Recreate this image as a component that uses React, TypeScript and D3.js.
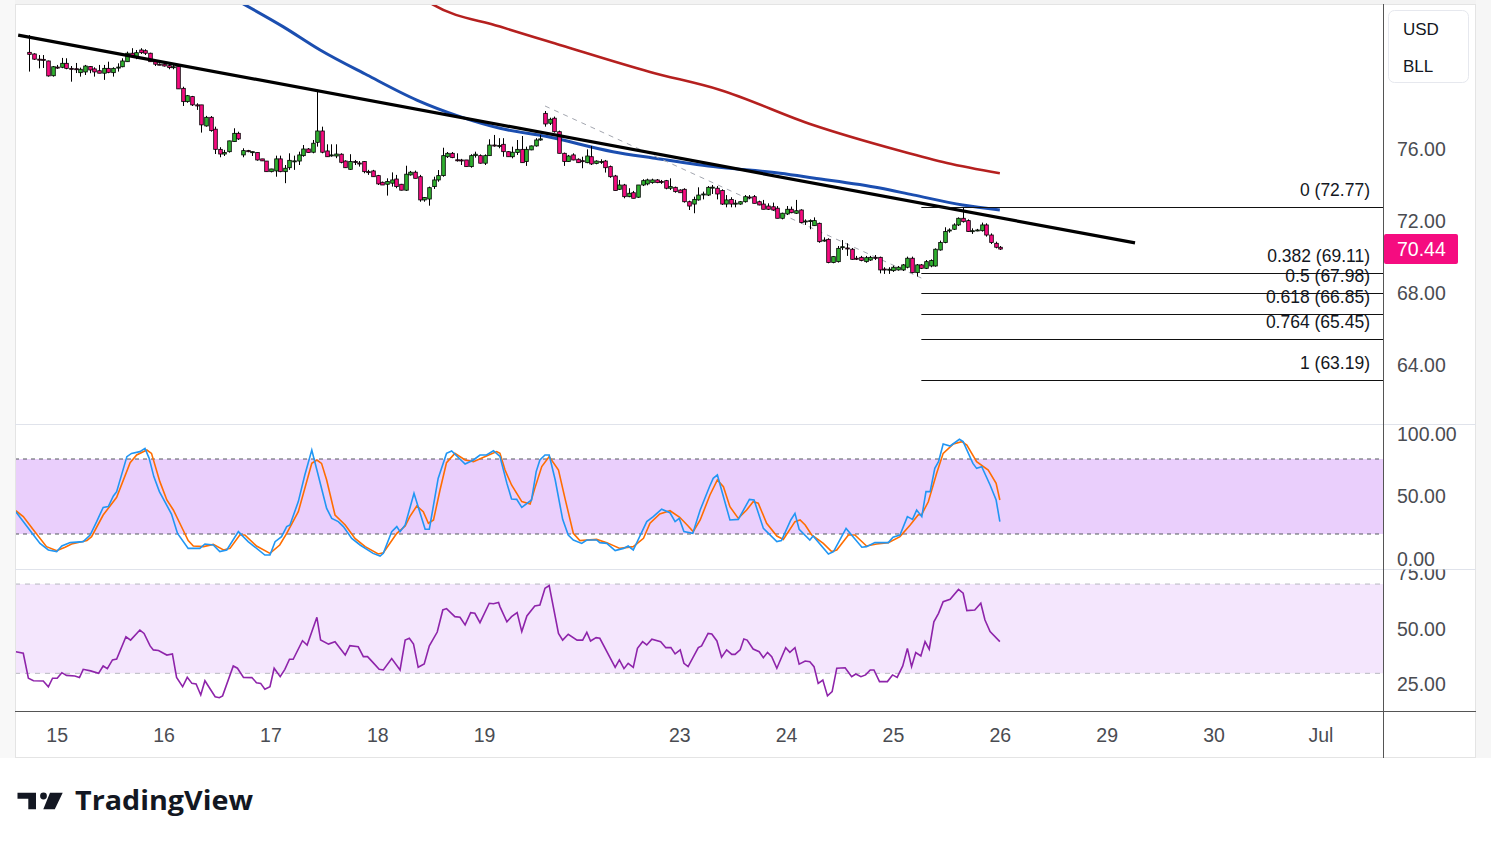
import React, { useEffect, useRef } from 'react';
import * as d3 from 'd3';

// hourly candles, [open, high, low, close]
const candles = [
  [81.37, 82.33, 80.30, 81.26], [81.28, 81.32, 80.95, 80.99], [80.99, 81.22, 80.48, 80.98], [80.98, 81.22, 80.50, 80.97],
  [80.89, 80.91, 80.02, 80.06], [80.07, 80.61, 80.02, 80.57], [80.55, 80.67, 80.45, 80.54], [80.54, 81.06, 80.49, 80.76],
  [80.76, 81.04, 80.43, 80.48], [80.48, 80.61, 79.74, 80.47], [80.46, 80.78, 80.22, 80.45], [80.24, 80.52, 80.02, 80.43],
  [80.28, 80.67, 80.11, 80.61], [80.58, 80.61, 80.21, 80.39], [80.45, 80.54, 80.02, 80.28], [80.35, 80.67, 80.21, 80.21],
  [80.21, 80.67, 79.84, 80.48], [80.48, 80.85, 80.21, 80.26], [80.24, 80.54, 80.02, 80.48], [80.54, 80.76, 80.30, 80.55],
  [80.57, 81.04, 80.54, 80.89], [80.85, 81.41, 80.85, 81.32], [81.32, 81.60, 81.17, 81.17], [81.13, 81.50, 80.99, 81.35],
  [81.50, 81.60, 81.28, 81.35], [81.46, 81.54, 81.22, 81.32], [81.32, 81.35, 80.85, 80.85], [80.89, 80.95, 80.61, 80.71],
  [80.71, 80.76, 80.65, 80.70], [80.71, 80.80, 80.58, 80.61], [80.63, 80.76, 80.43, 80.52], [80.52, 80.76, 80.43, 80.57],
  [80.58, 80.61, 79.34, 79.34], [79.37, 79.46, 78.39, 78.63], [78.63, 79.00, 78.57, 78.96], [78.91, 78.95, 78.39, 78.45],
  [78.45, 78.54, 78.17, 78.39], [78.45, 78.45, 76.91, 77.34], [77.28, 77.84, 77.24, 77.76], [77.76, 77.83, 76.96, 77.02],
  [77.10, 77.24, 75.72, 75.98], [75.98, 76.10, 75.54, 75.72], [75.72, 75.95, 75.61, 75.80], [75.85, 76.46, 75.80, 76.45],
  [76.41, 77.15, 76.41, 76.87], [76.87, 76.96, 76.50, 76.56], [75.67, 76.04, 75.54, 75.91], [75.91, 75.95, 75.82, 75.85],
  [75.85, 75.86, 75.61, 75.85], [75.80, 75.80, 75.35, 75.39], [75.45, 75.45, 75.33, 75.34], [75.33, 75.33, 74.74, 74.74],
  [74.74, 74.90, 74.70, 74.89], [74.78, 75.63, 74.46, 75.45], [75.45, 75.63, 74.71, 74.74], [74.74, 75.11, 74.10, 74.93],
  [74.96, 75.76, 74.84, 75.37], [75.33, 75.63, 74.84, 75.34], [75.33, 75.85, 75.11, 75.67], [75.63, 76.22, 75.57, 76.00],
  [76.00, 76.05, 75.79, 75.80], [75.82, 76.50, 75.76, 76.32], [76.37, 79.28, 76.13, 77.00], [77.00, 77.24, 75.76, 75.82],
  [75.89, 76.26, 75.57, 75.57], [75.62, 76.26, 75.57, 75.67], [75.61, 76.26, 75.49, 75.72], [75.71, 75.76, 75.20, 75.26],
  [75.33, 75.37, 74.96, 74.96], [74.87, 75.71, 74.84, 75.30], [75.30, 75.39, 75.11, 75.29], [75.22, 75.33, 75.02, 75.21],
  [75.30, 75.33, 74.65, 74.74], [74.74, 74.84, 74.56, 74.73], [74.78, 74.84, 74.46, 74.46], [74.52, 74.56, 74.00, 74.06],
  [74.15, 74.19, 74.00, 74.00], [74.04, 74.37, 73.41, 74.19], [74.10, 74.70, 73.91, 74.28], [74.33, 74.56, 73.82, 73.91],
  [74.04, 74.06, 73.70, 73.71], [73.71, 75.07, 73.67, 74.60], [74.56, 74.78, 74.52, 74.71], [74.71, 74.80, 74.37, 74.37],
  [74.46, 74.56, 73.07, 73.17], [73.17, 73.33, 73.07, 73.30], [73.22, 73.91, 72.85, 73.85], [73.91, 74.46, 73.78, 74.28],
  [74.28, 74.83, 74.18, 74.52], [74.52, 76.07, 74.46, 75.63], [75.57, 75.83, 75.50, 75.76], [75.76, 75.83, 75.49, 75.52],
  [75.40, 75.76, 75.30, 75.39], [75.39, 75.45, 75.11, 75.38], [75.39, 75.39, 75.02, 75.02], [75.02, 75.71, 74.96, 75.63],
  [75.63, 75.85, 75.52, 75.71], [75.63, 75.70, 75.19, 75.21], [75.21, 75.70, 75.11, 75.63], [75.63, 76.54, 75.63, 76.22],
  [76.22, 76.78, 76.13, 76.19], [76.18, 76.60, 76.04, 76.20], [76.26, 76.60, 75.57, 75.85], [75.85, 75.87, 75.57, 75.57],
  [75.57, 76.13, 75.48, 75.82], [75.80, 76.50, 75.67, 75.98], [75.98, 76.72, 75.24, 75.24], [75.30, 76.13, 75.06, 75.98],
  [75.95, 76.19, 75.93, 76.17], [76.17, 76.60, 76.13, 76.50], [76.50, 76.78, 76.46, 76.56], [77.98, 78.11, 77.24, 77.39],
  [77.43, 77.74, 77.33, 77.65], [77.71, 77.80, 76.91, 76.96], [76.96, 77.02, 75.76, 75.76], [75.76, 75.80, 75.06, 75.30],
  [75.30, 75.67, 75.28, 75.61], [75.67, 75.76, 75.37, 75.39], [75.43, 75.48, 75.22, 75.24], [75.35, 75.57, 74.93, 75.34],
  [75.24, 75.98, 75.21, 75.61], [75.57, 76.17, 75.11, 75.17], [75.20, 75.37, 75.15, 75.33], [75.30, 75.43, 75.17, 75.31],
  [75.33, 75.39, 74.69, 74.96], [75.02, 75.08, 74.40, 74.46], [74.50, 74.56, 73.69, 73.69], [73.76, 74.28, 73.72, 74.00],
  [74.00, 74.06, 73.26, 73.35], [73.35, 73.82, 73.32, 73.54], [73.57, 73.67, 73.26, 73.26], [73.32, 74.00, 73.28, 74.00],
  [74.00, 74.32, 73.94, 74.24], [74.06, 74.35, 73.98, 74.28], [74.13, 74.35, 74.07, 74.28], [74.28, 74.33, 74.10, 74.13],
  [74.20, 74.28, 74.06, 74.19], [74.24, 74.28, 73.76, 73.82], [73.82, 74.37, 73.72, 73.91], [73.87, 73.91, 73.57, 73.63],
  [73.72, 73.76, 73.57, 73.57], [73.76, 73.82, 73.02, 73.07], [73.07, 73.13, 72.61, 72.83], [72.94, 73.35, 72.43, 73.20],
  [73.17, 73.87, 73.13, 73.44], [73.48, 73.63, 73.20, 73.50], [73.44, 73.94, 73.39, 73.87], [73.87, 74.00, 73.50, 73.88],
  [73.82, 73.94, 73.20, 73.50], [73.69, 73.76, 72.89, 72.94], [72.94, 73.44, 72.76, 73.17], [73.20, 73.32, 72.76, 72.94],
  [72.98, 73.17, 72.76, 72.99], [72.94, 73.10, 72.90, 73.07], [73.07, 73.44, 73.02, 73.35], [73.33, 73.44, 73.22, 73.32],
  [73.35, 73.44, 72.98, 72.98], [73.07, 73.13, 72.87, 72.89], [72.94, 73.17, 72.65, 72.65], [72.83, 72.98, 72.61, 72.65],
  [72.79, 73.02, 72.57, 72.61], [72.71, 72.83, 72.15, 72.15], [72.15, 72.46, 72.09, 72.43], [72.39, 72.83, 72.33, 72.65],
  [72.65, 72.80, 72.43, 72.46], [72.43, 73.17, 72.39, 72.57], [72.61, 72.65, 71.87, 71.91], [71.98, 72.09, 71.78, 72.00],
  [72.00, 72.09, 71.54, 72.02], [71.74, 72.20, 71.72, 72.02], [71.87, 71.91, 70.79, 70.85], [70.92, 71.09, 70.85, 70.94],
  [70.98, 71.04, 69.65, 69.69], [69.69, 70.04, 69.65, 70.02], [69.74, 70.61, 69.69, 70.48], [70.55, 70.94, 70.39, 70.57],
  [70.50, 70.76, 70.06, 70.48], [70.43, 70.50, 69.85, 69.87], [69.93, 70.06, 69.83, 69.92], [69.98, 70.06, 69.76, 69.80],
  [69.74, 70.06, 69.68, 69.96], [69.83, 70.06, 69.78, 69.98], [69.98, 70.11, 69.83, 69.97], [69.98, 70.02, 69.09, 69.28],
  [69.33, 69.43, 69.06, 69.31], [69.31, 69.43, 69.06, 69.32], [69.24, 69.52, 69.17, 69.43], [69.28, 69.50, 69.24, 69.43],
  [69.28, 69.61, 69.22, 69.56], [69.43, 70.02, 69.37, 69.93], [69.93, 70.02, 69.09, 69.13], [69.13, 69.61, 68.91, 69.56],
  [69.56, 69.61, 69.33, 69.37], [69.37, 69.83, 69.33, 69.74], [69.50, 69.87, 69.43, 69.80], [69.50, 70.48, 69.46, 70.43],
  [70.39, 70.91, 70.35, 70.80], [70.80, 71.65, 70.76, 71.41], [71.50, 71.59, 71.35, 71.50], [71.54, 71.87, 71.50, 71.78],
  [71.78, 72.20, 71.72, 72.15], [72.15, 72.77, 71.91, 71.96], [72.02, 72.09, 71.39, 71.41], [71.46, 71.59, 71.28, 71.46],
  [71.50, 71.56, 71.43, 71.50], [71.46, 71.91, 71.41, 71.78], [71.78, 71.87, 71.13, 71.22], [71.22, 71.31, 70.72, 70.80],
  [70.76, 70.85, 70.48, 70.54], [70.54, 70.61, 70.39, 70.44],
];

// moving averages, [bar index, price]
const maBlue = [
  [44.5, 84.28], [54.6, 82.8], [62.6, 81.5], [72.7, 80.11], [83.4, 78.72], [92.7, 77.8], [101.3, 77.15],
  [111.4, 76.69], [125.6, 75.85], [134.2, 75.5], [147.2, 75.02], [161.6, 74.65], [168.7, 74.39],
  [183.1, 73.83], [190.2, 73.45], [200.9, 72.89], [208.9, 72.61],
];
const maRed = [
  [85.3, 84.28], [86.9, 84.02], [101.3, 82.8], [114.2, 81.78], [133.6, 80.28], [148.7, 79.28],
  [168.7, 77.33], [186.8, 75.94], [197.5, 75.22], [208.9, 74.65],
];

// drawings
const trendLine = [[-2.4, 82.33], [238, 70.78]];
const fibTrend = [[111, 78.39], [192, 68.83]];
const fibStart = 192;
const fibLevels = [
  ['0', 72.77], ['0.382', 69.11], ['0.5', 67.98], ['0.618', 66.85], ['0.764', 65.45], ['1', 63.19],
];
const lastPrice = 70.44;

// stochastic %K / %D, [bar index, value]
const stochK = [
  [-2.9, 37.8], [0.9, 19.2], [2.3, 12.5], [4.1, 7.2], [5.9, 5.9], [7, 10.4], [8.8, 13.1], [11.6, 13.9], [13.1, 19.2],
  [14.5, 29.9], [15.9, 41.3], [17, 41.9], [18.1, 50.4], [18.8, 53.9], [21, 81.9], [22, 84.5], [23.8, 85.9], [24.9, 88.5],
  [25.8, 80.5], [26.8, 65.9], [28, 53.9], [30.6, 36], [31.9, 20.5], [34.2, 8.5], [36.7, 8.5], [37.8, 12], [39.6, 11.2],
  [41, 5.9], [42.5, 7.2], [45, 21.9], [47.1, 13.9], [50.7, 3.2], [51.8, 3.2], [52.9, 13.9], [54.3, 17.9], [55.4, 25.9],
  [56.1, 27.2], [57.9, 45.9], [59.3, 67.2], [60.8, 87.2], [61.9, 71.2], [64, 40.5], [65.1, 32.5], [66.5, 29.9],
  [67.6, 25.9], [69.4, 16.5], [71.2, 11.2], [74, 4.5], [75.5, 2.4], [76.2, 4.5], [78, 21.9], [79.1, 25.9], [79.8, 21.9],
  [80.9, 27.2], [82.8, 52.5], [85.2, 23.8], [86.1, 23.8], [88, 64.5], [89.8, 84.5], [90.9, 86.4], [93.8, 76],
  [95.6, 79.2], [97, 83.2], [98.4, 83.2], [99.9, 86.6], [101.3, 82], [102.8, 60.5], [103.8, 48], [104.9, 47.7],
  [106, 41.3], [108.1, 47.2], [109.1, 69.9], [109.9, 79.2], [111, 83.2], [111.9, 83.2], [113.2, 63.2], [114.8, 31.7],
  [116, 19.2], [117.1, 15.2], [118.9, 12.5], [120, 15.2], [122.1, 15.2], [122.8, 13.1], [124.3, 12.5], [126.1, 6.7],
  [127.9, 8.5], [128.9, 10.4], [130, 7.2], [132.9, 29.9], [134.3, 33.9], [136.1, 39.8], [137.9, 37], [139, 29.9],
  [139.9, 32.5], [140.9, 21.9], [142.8, 20.5], [144.4, 39.2], [146.4, 57.8], [147.2, 64.5], [148.1, 67.2],
  [150.8, 31.2], [152.6, 31.7], [155, 47.7], [156, 47.2], [158, 24.5], [160.9, 13.9], [161.9, 14.7], [163.9, 31.2],
  [164.8, 36.5], [165.7, 23.8], [168, 15.2], [168.7, 18.4], [172, 4], [173.1, 5.9], [175.8, 24.5], [179.2, 9.4],
  [180.2, 9.9], [182, 13.1], [184.9, 13.1], [185.9, 17.4], [187.4, 19.2], [189, 33.9], [190.1, 31.7], [191, 39.2],
  [192.1, 33.9], [193, 53.9], [193.9, 53.9], [194.9, 72.5], [195.7, 77.9], [196.7, 92], [198.2, 90.4], [200.2, 95.8],
  [201, 93.9], [203.1, 76.5], [203.9, 72.5], [205, 73.9], [206.8, 59.2], [208.1, 47.2], [208.9, 29.9],
];
const stochD = [
  [-2.9, 38.6], [-1.3, 33.9], [0.9, 23.2], [3.7, 9.9], [5.9, 6.7], [7.7, 9.4], [9.1, 12], [12.4, 14.7], [13.4, 17.9],
  [15.9, 35.2], [18.8, 49.4], [21.7, 77.1], [23.1, 83.2], [25.3, 87.2], [26.3, 84.5], [28.1, 61.9], [29.6, 47.2],
  [31, 39.2], [33.1, 23.2], [34.2, 14.7], [35.3, 10.4], [37.5, 9.9], [39.6, 11.7], [41.8, 7.2], [43.2, 8.5],
  [45.3, 19.2], [46.4, 19.2], [48.9, 10.4], [51.8, 4.5], [53.9, 11.2], [55.4, 20.5], [57.9, 37.8], [60.8, 76.5],
  [61.9, 79.2], [62.9, 76.5], [64, 63.2], [65.8, 35.2], [68, 27.2], [70.1, 16.5], [72.3, 9.9], [75.1, 4], [76.2, 5],
  [79.1, 20.5], [80.9, 26.4], [81.9, 33.9], [83.4, 42.4], [84.8, 37.8], [85.9, 28.6], [87, 31.2], [88.4, 55.2],
  [89.8, 77.1], [91.6, 84.5], [93.8, 79.2], [95.6, 77.9], [98.4, 82.4], [100.6, 85.9], [101.3, 84.5], [102.4, 71.2],
  [103.8, 59.2], [106, 45.9], [107.8, 44], [108.8, 56.5], [110.3, 73.9], [111.9, 81.9], [113.9, 71.2], [115.3, 48.5],
  [117.1, 20.5], [118.5, 14.7], [122.1, 15.7], [124.3, 13.1], [127.1, 8.5], [130, 9.9], [132.2, 16.5], [133.6, 28.6],
  [135.7, 36], [137.9, 38.6], [140, 33.4], [141.8, 26.4], [142.9, 21.9], [144.4, 31.2], [146.5, 51.2], [148.1, 63.2],
  [149.4, 57.8], [150.8, 41.8], [152.6, 32.5], [154.4, 39.2], [155.8, 45.8], [156.9, 44.6], [158.7, 28.6],
  [160.9, 18.4], [162.3, 15.7], [164.8, 29.9], [165.9, 31.2], [167, 27.2], [168.4, 19.2], [170.9, 12.5], [172.7, 5.9],
  [173.8, 7.2], [176.3, 19.2], [177.7, 19.2], [180.2, 10.4], [182.4, 12], [184.9, 13.1], [187.4, 17.9], [189.6, 27.2],
  [191.3, 35.2], [192.1, 35.8], [193.5, 45.8], [195.3, 68.6], [196.7, 84.5], [198.9, 92], [200.7, 93.9], [201.8, 91.2],
  [203.9, 77.9], [206.4, 71.2], [208.1, 60.6], [208.9, 47.2],
];

// RSI, [bar index, value]
const rsi = [
  [-2.9, 39.7], [-1.3, 39], [-0.2, 27.8], [0.9, 26.7], [3, 26.6], [4.1, 24], [5, 27.8], [6, 27.8], [7, 30.3], [8, 29.1],
  [9.8, 28.8], [10.8, 28.1], [11.6, 31.8], [13.2, 31.1], [14.9, 30], [15.9, 33.3], [16.8, 32.1], [17.9, 36],
  [18.8, 36.4], [20.8, 46.4], [21.8, 44.9], [23.8, 49.4], [24.7, 47.9], [26, 42.3], [26.7, 40.5], [27.8, 40.2],
  [29.6, 38.2], [30.8, 38.7], [31.7, 28.2], [33, 24], [34, 28.2], [35, 25.5], [35.9, 25.2], [36.9, 20.3], [37.8, 26.7],
  [40, 19.5], [40.9, 19.1], [41.6, 19.9], [43.9, 33.3], [44.8, 32.3], [46.1, 28.2], [47.9, 28.1], [48.9, 25.8],
  [49.8, 25.5], [50.7, 22.9], [51.8, 24], [52.7, 32.3], [54, 28.5], [55, 31.8], [56, 36.3], [56.8, 36.3], [58.8, 44.6],
  [59.8, 42.7], [61.9, 55.1], [62.7, 44.9], [64.4, 43.1], [65.8, 44.2], [68, 38.2], [69, 42.4], [70.8, 41.9],
  [71.9, 37.5], [72.8, 37.5], [74, 34.8], [75.3, 31.8], [76.2, 31.5], [78, 36.6], [79.8, 31.5], [80.9, 44.9],
  [81.8, 45.7], [82.7, 43.1], [83.7, 32.7], [85, 34.2], [86.1, 42.3], [87.8, 48.5], [89, 58.4], [89.8, 59],
  [91.6, 55.4], [92.7, 55.1], [93.8, 51.7], [95, 57.2], [95.9, 56.9], [97, 52.7], [99, 61.4], [99.9, 61.2],
  [101, 61.8], [101.3, 59.9], [102.8, 53.1], [103.8, 55.4], [105, 57.2], [106, 48.7], [107.1, 55.7], [108.8, 60.2],
  [109.9, 60.6], [111, 68.1], [111.9, 69.3], [113.9, 47.9], [114.8, 44.9], [116, 47.5], [117.9, 44.9], [119.1, 44.9],
  [120, 48.4], [120.8, 44.5], [122, 46], [122.8, 45.7], [126.1, 32.7], [127, 36], [128, 32.1], [128.9, 34.5],
  [130, 32.7], [130.9, 41.2], [132, 44.2], [132.9, 42.7], [134, 45.3], [135.9, 44.2], [137, 41.5], [138.1, 41.5],
  [139, 38.7], [140.1, 40.5], [140.9, 34.5], [141.8, 33], [144, 41.5], [144.7, 42.3], [146.1, 47.9], [146.9, 47.6],
  [148, 44.5], [149, 37.2], [150.1, 40.5], [151.2, 38.5], [151.9, 38.5], [153, 40.5], [153.8, 45.4], [154.5, 44.9],
  [155.8, 40.9], [157.1, 39.7], [158, 37], [158.9, 39.4], [159.8, 37.5], [160.9, 32.3], [162.8, 41.5], [163.7, 39.4],
  [164.8, 41.5], [165.7, 34.1], [167, 35.5], [168, 35.2], [168.9, 33], [169.8, 25.5], [170.8, 27], [171.8, 19.9],
  [172.8, 21.8], [173.8, 32.3], [175.6, 32.5], [177, 28.5], [177.9, 29.7], [179, 28.5], [180, 29.3], [181, 31.5],
  [181.8, 31.5], [183, 26.3], [184.7, 26.3], [185.8, 29.3], [186.8, 28.2], [188, 33.3], [189, 41.2], [189.9, 33],
  [190.8, 39.3], [191.9, 37.8], [192.8, 44.2], [193.7, 40.8], [194.7, 53.1], [195.7, 56.9], [196.7, 62.1],
  [198.2, 63.2], [200, 67.6], [201, 65.9], [201.8, 58.1], [203.5, 58.4], [204.8, 61.4], [205.7, 53.9], [206.8, 48.7],
  [208.9, 44.2],
];

const priceTicks = [64, 68, 72, 76];
const stochTicks = [0, 50, 100];
const rsiTicks = [25, 50, 75];
const dayTicks = [
  ['15', 6], ['16', 29], ['17', 52], ['18', 75], ['19', 98], ['23', 140],
  ['24', 163], ['25', 186], ['26', 209], ['29', 232], ['30', 255], ['Jul', 278],
];

const FONT = 'Liberation Sans, Arial, sans-serif';
const UP = '#2fb02f';
const DOWN = '#f50c80';

const App = () => {
  const svgRef = useRef(null);

  useEffect(() => {
    const W = 1491, H = 849;
    const left = 15, plotRight = 1383, frameRight = 1476;
    const top = 4, mainBottom = 424, stochBottom = 569, rsiBottom = 711, frameBottom = 758;

    const svg = d3.select(svgRef.current);
    svg.selectAll('*').remove();
    svg.attr('width', W).attr('height', H).attr('viewBox', [0, 0, W, H]);

    // scales
    const x = d3.scaleLinear().domain([-3.08, 291.37]).range([left, plotRight]);
    const y = d3.scaleLinear().domain([60.72, 84]).range([mainBottom, 5]);
    const yStoch = d3.scaleLinear().domain([0, 100]).range([559, 434]);
    const yRsi = d3.scaleLinear().domain([25, 75]).range([684.5, 572.9]);

    svg.append('rect').attr('width', W).attr('height', H).attr('fill', '#fff');
    svg.append('rect').attr('x', 0).attr('y', 0).attr('width', W).attr('height', top).attr('fill', '#f3f3f3');
    svg.append('rect').attr('x', 0).attr('y', 0).attr('width', left).attr('height', frameBottom).attr('fill', '#f8f8f8');
    svg.append('rect').attr('x', frameRight).attr('y', 0).attr('width', W - frameRight).attr('height', frameBottom).attr('fill', '#f6f6f6');

    // clip paths per pane
    const defs = svg.append('defs');
    const clip = (id, y0, y1) => defs.append('clipPath').attr('id', id)
      .append('rect').attr('x', left).attr('y', y0).attr('width', plotRight - left).attr('height', y1 - y0);
    clip('clip-main', top, mainBottom);
    clip('clip-stoch', mainBottom, stochBottom);
    clip('clip-rsi', stochBottom, rsiBottom);
    defs.append('clipPath').attr('id', 'clip-rsi-axis')
      .append('rect').attr('x', plotRight).attr('y', stochBottom + 0.5).attr('width', frameRight - plotRight).attr('height', rsiBottom - stochBottom);

    // ---- main pane
    const main = svg.append('g').attr('clip-path', 'url(#clip-main)');

    const lineIP = (scaleY) => d3.line().x(d => x(d[0])).y(d => scaleY(d[1]));

    main.append('path').datum(maRed)
      .attr('fill', 'none').attr('stroke', '#b5201f').attr('stroke-width', 2.6)
      .attr('d', lineIP(y).curve(d3.curveMonotoneX));
    main.append('path').datum(maBlue)
      .attr('fill', 'none').attr('stroke', '#1b4eb0').attr('stroke-width', 3)
      .attr('d', lineIP(y).curve(d3.curveMonotoneX));

    // fib retracement
    main.append('path').datum(fibTrend)
      .attr('fill', 'none').attr('stroke', '#a3a6af').attr('stroke-width', 1).attr('stroke-dasharray', '5,5')
      .attr('d', lineIP(y));
    const fib = svg.append('g');
    fibLevels.forEach(([lvl, p]) => {
      const yy = Math.round(y(p)) + 0.5;
      fib.append('line').attr('x1', x(fibStart)).attr('x2', plotRight).attr('y1', yy).attr('y2', yy)
        .attr('stroke', '#111').attr('stroke-width', 1);
      fib.append('text').attr('x', 1370).attr('y', yy - 18).attr('dy', '0.35em')
        .attr('text-anchor', 'end').attr('font-family', FONT).attr('font-size', 17.5).attr('fill', '#131722')
        .text(`${lvl} (${p.toFixed(2)})`);
    });

    // candles
    const bw = 3.6;
    const cg = main.append('g');
    candles.forEach((c, i) => {
      const [o, h, l, cl] = c;
      const cx = Math.round(x(i)) + 0.5;
      const hi = Math.max(h, o, cl), lo = Math.min(l, o, cl);
      cg.append('line').attr('x1', cx).attr('x2', cx).attr('y1', y(hi)).attr('y2', y(lo))
        .attr('stroke', '#000').attr('stroke-width', 1);
      const yTop = y(Math.max(o, cl)), yBot = y(Math.min(o, cl));
      cg.append('rect').attr('x', cx - bw / 2).attr('y', yTop).attr('width', bw)
        .attr('height', Math.max(1, yBot - yTop))
        .attr('fill', cl >= o ? UP : DOWN).attr('stroke', '#000').attr('stroke-width', 0.8);
    });

    // trend line
    main.append('path').datum(trendLine)
      .attr('fill', 'none').attr('stroke', '#000').attr('stroke-width', 3.2)
      .attr('d', lineIP(y));

    // ---- stochastic pane
    const st = svg.append('g').attr('clip-path', 'url(#clip-stoch)');
    st.append('rect').attr('x', left).attr('width', plotRight - left)
      .attr('y', yStoch(80)).attr('height', yStoch(20) - yStoch(80)).attr('fill', '#eacffc');
    [80, 20].forEach(v => {
      st.append('line').attr('x1', left).attr('x2', plotRight).attr('y1', yStoch(v)).attr('y2', yStoch(v))
        .attr('stroke', '#55585f').attr('stroke-width', 1).attr('stroke-dasharray', '4,4');
    });
    st.append('path').datum(stochD).attr('fill', 'none').attr('stroke', '#ff6d00').attr('stroke-width', 1.6)
      .attr('d', lineIP(yStoch));
    st.append('path').datum(stochK).attr('fill', 'none').attr('stroke', '#2196f3').attr('stroke-width', 1.6)
      .attr('d', lineIP(yStoch));

    // ---- RSI pane
    const rp = svg.append('g').attr('clip-path', 'url(#clip-rsi)');
    rp.append('rect').attr('x', left).attr('width', plotRight - left)
      .attr('y', yRsi(70)).attr('height', yRsi(30) - yRsi(70)).attr('fill', '#f4e6fd');
    [70, 30].forEach(v => {
      rp.append('line').attr('x1', left).attr('x2', plotRight).attr('y1', yRsi(v)).attr('y2', yRsi(v))
        .attr('stroke', '#b7b9c0').attr('stroke-width', 1).attr('stroke-dasharray', '5,5');
    });
    rp.append('path').datum(rsi).attr('fill', 'none').attr('stroke', '#8e24aa').attr('stroke-width', 1.6)
      .attr('d', lineIP(yRsi));

    // ---- frame and separators
    const fr = svg.append('g');
    fr.append('rect').attr('x', left + 0.5).attr('y', top + 0.5).attr('width', frameRight - left - 1)
      .attr('height', frameBottom - top - 1).attr('fill', 'none').attr('stroke', '#e4e4e4');
    [mainBottom, stochBottom].forEach(v => {
      fr.append('line').attr('x1', left).attr('x2', frameRight).attr('y1', v + 0.5).attr('y2', v + 0.5)
        .attr('stroke', '#e0e3eb');
    });
    fr.append('line').attr('x1', left).attr('x2', frameRight).attr('y1', rsiBottom + 0.5).attr('y2', rsiBottom + 0.5)
      .attr('stroke', '#555');
    fr.append('line').attr('x1', plotRight + 0.5).attr('x2', plotRight + 0.5).attr('y1', top).attr('y2', frameBottom)
      .attr('stroke', '#555');

    // ---- axes labels
    const axisText = (g, tx, ty, t) => g.append('text').attr('x', tx).attr('y', ty).attr('dy', '0.35em')
      .attr('font-family', FONT).attr('font-size', 19.5).attr('fill', '#4a4c52').text(t);

    const ax = svg.append('g');
    priceTicks.forEach(v => axisText(ax, 1397, y(v), v.toFixed(2)));
    stochTicks.forEach(v => axisText(ax, 1397, yStoch(v), v.toFixed(2)));
    const rAx = svg.append('g').attr('clip-path', 'url(#clip-rsi-axis)');
    rsiTicks.forEach(v => axisText(rAx, 1397, yRsi(v), v.toFixed(2)));

    dayTicks.forEach(([lab, i]) => {
      axisText(ax, x(i), 735, lab).attr('text-anchor', 'middle');
    });

    // last price tag
    const yl = y(lastPrice);
    ax.append('rect').attr('x', plotRight + 1).attr('y', yl - 15).attr('width', 74).attr('height', 30)
      .attr('rx', 2).attr('fill', DOWN);
    ax.append('text').attr('x', 1397).attr('y', yl).attr('dy', '0.35em')
      .attr('font-family', FONT).attr('font-size', 19.5).attr('fill', '#fff').text(lastPrice.toFixed(2));

    // legend box
    ax.append('rect').attr('x', 1388.5).attr('y', 10.5).attr('width', 80).attr('height', 72).attr('rx', 6)
      .attr('fill', '#fff').attr('stroke', '#e6e8ee');
    ['USD', 'BLL'].forEach((t, k) => {
      ax.append('text').attr('x', 1403).attr('y', 29 + k * 37).attr('dy', '0.35em')
        .attr('font-family', FONT).attr('font-size', 17).attr('fill', '#131722').text(t);
    });

    // ---- TradingView logo
    const logo = svg.append('g').attr('fill', '#131722');
    logo.append('path').attr('d', 'M17.5,792.7 H36 V809.3 H28.3 V798.7 H17.5 Z');
    logo.append('circle').attr('cx', 43.5).attr('cy', 796).attr('r', 3.4);
    logo.append('path').attr('d', 'M50,792.7 H62.7 L54.8,809.3 H43.3 Z');
    logo.append('text').attr('x', 75).attr('y', 810).attr('font-family', 'Open Sans, ' + FONT)
      .attr('font-weight', 700).attr('font-size', 26).attr('textLength', 178).attr('lengthAdjust', 'spacingAndGlyphs')
      .text('TradingView');
  }, []);

  return <svg ref={svgRef} style={{ position: 'absolute', left: 0, top: 0 }}></svg>;
};

export default App;
